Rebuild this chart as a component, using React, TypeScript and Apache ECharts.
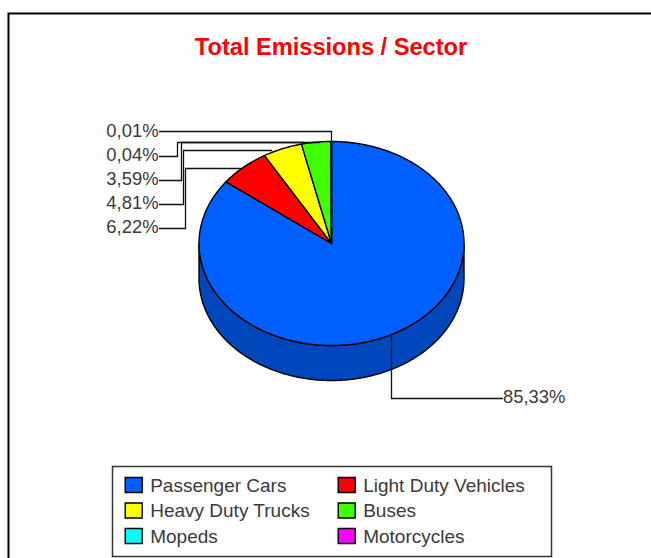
import React, { useEffect, useRef } from "react";
import * as echarts from "echarts";

const TITLE = "Total Emissions / Sector";
const categories = ["Passenger Cars", "Light Duty Vehicles", "Heavy Duty Trucks", "Buses", "Mopeds", "Motorcycles"];
const shares = [85.33, 6.22, 4.81, 3.59, 0.04, 0.01];
const colors = ["#0060FF", "#FF0000", "#FFFF00", "#40FF00", "#00FFFF", "#FF00FF"];
const sideColors = ["#0047BB", "#BB0000", "#BBBB00", "#2FBB00", "#00BBBB", "#BB00BB"];

const FONT = "'Liberation Sans', Arial, sans-serif";
const TEXT = "#3a3a3a";
const CX = 331.5, CY = 243.5, RX = 132.5, RY = 102, DEPTH = 35;

// Leader line routes, one per slice, and where each label sits.
const leaders: number[][][] = [
  [[391.5, 336], [391.5, 398.5], [503, 398.5]],
  [[159, 228.5], [185.5, 228.5], [185.5, 168.5], [241, 168.5]],
  [[159, 204.5], [183.5, 204.5], [183.5, 150.5], [272, 150.5]],
  [[159, 180.5], [181.5, 180.5], [181.5, 142.5], [304, 142.5]],
  [[159, 156.5], [177.5, 156.5], [177.5, 142.5], [320, 142.5]],
  [[159, 131.5], [331.5, 131.5], [331.5, 142]],
];
const labelAnchors = [
  { x: 503, y: 396, align: "left" },
  { x: 158.5, y: 226, align: "right" },
  { x: 158.5, y: 202, align: "right" },
  { x: 158.5, y: 178, align: "right" },
  { x: 158.5, y: 154, align: "right" },
  { x: 158.5, y: 130, align: "right" },
];

const total = shares.reduce((a, b) => a + b, 0);
const startOf = (i: number) => (shares.slice(0, i).reduce((a, b) => a + b, 0) / total) * Math.PI * 2;
const ell = (a: number, dy = 0) => [CX + RX * Math.sin(a), CY - RY * Math.cos(a) + dy];

function arc(a0: number, a1: number, dy = 0) {
  const n = Math.max(2, Math.ceil(((a1 - a0) / (Math.PI * 2)) * 360));
  const pts: number[][] = [];
  for (let k = 0; k <= n; k++) pts.push(ell(a0 + ((a1 - a0) * k) / n, dy));
  return pts;
}

function makeRender(i: number) {
  return () => {
    const a0 = startOf(i), a1 = startOf(i + 1);
    const children: any[] = [];
    const f0 = Math.max(a0, Math.PI / 2), f1 = Math.min(a1, (Math.PI * 3) / 2);
    if (f1 > f0) {
      const wall = [...arc(f0, f1), ...arc(f0, f1, DEPTH).reverse()];
      children.push({ type: "polygon", shape: { points: wall }, style: { fill: sideColors[i], stroke: "#000", lineWidth: 1.4 } });
    }
    children.push({
      type: "polygon",
      shape: { points: [[CX, CY], ...arc(a0, a1)] },
      style: { fill: colors[i], stroke: "#000", lineWidth: 1.4, lineJoin: "round" },
    });
    children.push({ type: "polyline", shape: { points: leaders[i] }, style: { fill: "none", stroke: "#111", lineWidth: 1.3 }, z2: 5 });
    const lab = labelAnchors[i];
    children.push({
      type: "text",
      x: lab.x, y: lab.y, z2: 6,
      style: {
        text: shares[i].toFixed(2).replace(".", ",") + "%",
        fill: TEXT, font: `18.4px ${FONT}`, align: lab.align, verticalAlign: "middle",
      },
    });
    return { type: "group", children };
  };
}

export default function App() {
  const ref = useRef<HTMLDivElement>(null);
  useEffect(() => {
    const chart = echarts.init(ref.current!, null, { renderer: "svg" });
    const legendBase = {
      orient: "vertical" as const,
      top: 475.5,
      itemWidth: 17,
      itemHeight: 15,
      itemGap: 6.5,
      icon: "rect",
      padding: 0,
      selectedMode: false,
      itemStyle: { borderColor: "#000", borderWidth: 1.4 },
      textStyle: { color: TEXT, fontFamily: FONT, fontSize: 19, padding: [0, 0, 0, 3], lineHeight: 16 },
    };
    chart.setOption({
      animation: false,
      backgroundColor: "#fff",
      title: {
        text: TITLE, left: 331, top: 34, textAlign: "center", padding: 0,
        textStyle: { color: "#FF0000", fontFamily: FONT, fontWeight: "bold", fontSize: 23.6, lineHeight: 26 },
      },
      legend: [
        { ...legendBase, left: 124.5, data: [categories[0], categories[2], categories[4]] },
        { ...legendBase, left: 337.5, data: [categories[1], categories[3], categories[5]] },
      ],
      graphic: [
        { type: "rect", silent: true, z: -1, shape: { x: 8.5, y: 13.5, width: 660, height: 560 }, style: { fill: "#fff", stroke: "#000", lineWidth: 2 } },
        { type: "rect", silent: true, z: -1, shape: { x: 112.5, y: 466.5, width: 439, height: 90 }, style: { fill: "#fff", stroke: "#333", lineWidth: 1.5 } },
      ],
      series: categories.map((name, i) => ({
        type: "custom",
        name,
        coordinateSystem: "none",
        data: [shares[i]],
        itemStyle: { color: colors[i] },
        renderItem: makeRender(i),
        silent: true,
        z: 2,
      })),
    });
    return () => chart.dispose();
  }, []);
  return <div ref={ref} style={{ position: "fixed", left: 0, top: 0, width: 651, height: 558 }} />;
}
